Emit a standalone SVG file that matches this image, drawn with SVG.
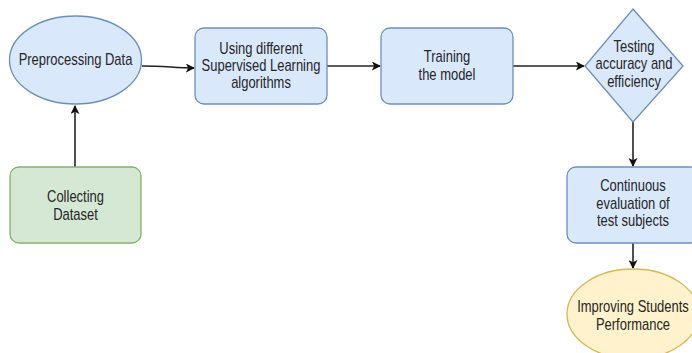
<svg xmlns="http://www.w3.org/2000/svg" width="692" height="353" viewBox="0 0 692 353">
<style>
.blue{fill:#dae8fc;stroke:#6c8ebf;stroke-width:1.3}
.green{fill:#d5e8d4;stroke:#82b366;stroke-width:1.3}
.yellow{fill:#fff2cc;stroke:#d6b656;stroke-width:1.3}
.t{font-family:"Liberation Sans",Arial,sans-serif;font-size:16px;fill:#262626;text-anchor:middle}
.c{fill:none;stroke:#222;stroke-width:1.6}
</style>
<defs>
<marker id="ah" viewBox="0 0 10 10" refX="9" refY="5" markerWidth="9" markerHeight="9" markerUnits="userSpaceOnUse" orient="auto">
<path d="M0,0 L10,5 L0,10 L2.5,5 Z" fill="#111"/>
</marker>
</defs>
<rect width="692" height="353" fill="#fff"/>
<g id="connectors">
<path class="c" d="M75,167 L75,106" marker-end="url(#ah)"/>
<path class="c" d="M142,66 C165,66 175,68 194,68" marker-end="url(#ah)"/>
<path class="c" d="M327,66 L380,66" marker-end="url(#ah)"/>
<path class="c" d="M513,66 L584,66" marker-end="url(#ah)"/>
<path class="c" d="M633,122 L633,166" marker-end="url(#ah)"/>
<path class="c" d="M633,243 L633,268" marker-end="url(#ah)"/>
</g>
<g id="preprocessing">
<ellipse class="blue" cx="75.5" cy="60" rx="66" ry="44"/>
<text class="t" transform="matrix(0.81 0 0 1 75.5 0)" x="0" y="65">Preprocessing Data</text>
</g>
<g id="supervised">
<rect class="blue" x="195" y="28" width="132" height="76" rx="9"/>
<text class="t" transform="matrix(0.81 0 0 1 261 0)" x="0" y="54.5">Using different</text>
<text class="t" transform="matrix(0.81 0 0 1 261 0)" x="0" y="71.5">Supervised Learning</text>
<text class="t" transform="matrix(0.81 0 0 1 261 0)" x="0" y="88.5">algorithms</text>
</g>
<g id="training">
<rect class="blue" x="381" y="28" width="132" height="76" rx="9"/>
<text class="t" transform="matrix(0.81 0 0 1 447 0)" x="0" y="62">Training</text>
<text class="t" transform="matrix(0.81 0 0 1 447 0)" x="0" y="80">the model</text>
</g>
<g id="testing">
<polygon class="blue" points="633,9 683,66 633,122 585,66"/>
<text class="t" transform="matrix(0.81 0 0 1 634 0)" x="0" y="52">Testing</text>
<text class="t" transform="matrix(0.81 0 0 1 634 0)" x="0" y="69.5">accuracy and</text>
<text class="t" transform="matrix(0.81 0 0 1 634 0)" x="0" y="87">efficiency</text>
</g>
<g id="collecting">
<rect class="green" x="10" y="167" width="131" height="76" rx="9"/>
<text class="t" transform="matrix(0.81 0 0 1 75.5 0)" x="0" y="202">Collecting</text>
<text class="t" transform="matrix(0.81 0 0 1 75.5 0)" x="0" y="220">Dataset</text>
</g>
<g id="continuous">
<rect class="blue" x="567" y="167" width="132" height="76" rx="9"/>
<text class="t" transform="matrix(0.81 0 0 1 633 0)" x="0" y="191">Continuous</text>
<text class="t" transform="matrix(0.81 0 0 1 633 0)" x="0" y="209">evaluation of</text>
<text class="t" transform="matrix(0.81 0 0 1 633 0)" x="0" y="226.5">test subjects</text>
</g>
<g id="improving">
<ellipse class="yellow" cx="633" cy="314" rx="66" ry="45"/>
<text class="t" transform="matrix(0.81 0 0 1 633 0)" x="0" y="312">Improving Students</text>
<text class="t" transform="matrix(0.81 0 0 1 633 0)" x="0" y="330">Performance</text>
</g>
</svg>
